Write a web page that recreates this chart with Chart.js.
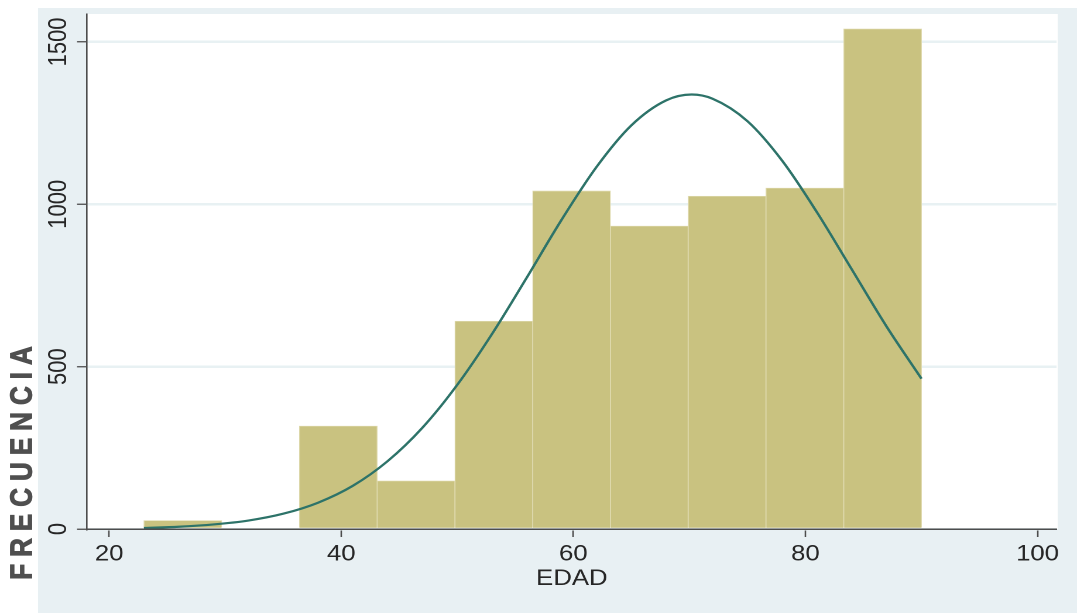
<!DOCTYPE html>
<html>
<head>
<meta charset="utf-8">
<script src="https://cdn.jsdelivr.net/npm/chart.js@4"></script>
<style>
  html, body { margin: 0; padding: 0; background: #ffffff; overflow: hidden; }
  #wrap { position: absolute; left: 0; top: 0; height: 614px; transform-origin: 0 0; }
</style>
</head>
<body>
<div id="wrap"><canvas id="hist"></canvas></div>
<script>
// histogram of EDAD (bin edges) and counts per bin
const binEdges = [23, 29.7, 36.4, 43.1, 49.8, 56.5, 63.2, 69.9, 76.6, 83.3, 90];
const binCounts = [26, 0, 317, 148, 640, 1041, 933, 1025, 1050, 1540];

// normal curve
const curveX = [23, 26, 29, 32, 35, 38, 41, 44, 47, 50, 53, 56, 59, 62, 65, 68, 70.2, 72, 75, 78, 81, 84, 87, 90];
const curveY = [3, 7, 14, 26, 47, 81, 133, 209, 312, 444, 601, 775, 953, 1115, 1243, 1320, 1338, 1325, 1256, 1134, 975, 799, 623, 463];

const xTicks = [20, 40, 60, 80, 100];
const yTicks = [0, 500, 1000, 1500];

// the original picture is stretched sideways
const SX = 1.17;
const W = 1077 / SX;

let wrap = document.getElementById('wrap');
wrap.style.width = W + 'px';
wrap.style.transform = 'scaleX(' + SX + ')';

const bgColor = '#e8f0f3';
const barColor = '#c9c280';
const curveColor = '#2d7369';
const axisColor = '#4d4d4d';
const textColor = '#262626';
const fontFamily = '"Liberation Sans", Arial, sans-serif';

const bars = binCounts.map((c, i) => ({ x: (binEdges[i] + binEdges[i + 1]) / 2, y: c }));
const curve = curveX.map((x, i) => ({ x: x, y: curveY[i] }));

// backgrounds (outer light panel + white plot region)
const panelPlugin = {
    id: 'panel',
    beforeDraw(chart) {
        let ctx = chart.ctx;
        let a = chart.chartArea;
        ctx.save();
        ctx.fillStyle = '#ffffff';
        ctx.fillRect(0, 0, chart.width, chart.height);
        ctx.fillStyle = bgColor;
        ctx.fillRect(38 / SX, 8, chart.width - 38 / SX, 605);
        ctx.fillStyle = '#ffffff';
        ctx.fillRect(a.left, a.top, a.right - a.left + 1, a.bottom - a.top);
        ctx.restore();
    },
    afterDraw(chart) {
        // y axis title sits low, not centred on the plot
        let ctx = chart.ctx;
        ctx.save();
        ctx.translate(23 / SX, 463);
        ctx.rotate(-Math.PI / 2);
        ctx.font = 'bold 26px ' + fontFamily;
        ctx.letterSpacing = '7px';
        ctx.fillStyle = '#4f4f4f';
        ctx.strokeStyle = '#4f4f4f';
        ctx.lineWidth = 0.9;
        ctx.textAlign = 'center';
        ctx.textBaseline = 'middle';
        ctx.fillText('FRECUENCIA', 3.5, 0);
        ctx.strokeText('FRECUENCIA', 3.5, 0);
        ctx.restore();
    }
};

new Chart(document.getElementById('hist'), {
    type: 'bar',
    data: {
        datasets: [{
            type: 'line',
            data: curve,
            borderColor: curveColor,
            borderWidth: 2.2,
            pointRadius: 0,
            cubicInterpolationMode: 'monotone',
            fill: false,
            order: 0
        }, {
            type: 'bar',
            data: bars,
            backgroundColor: barColor,
            borderColor: '#dfdaae',
            borderWidth: 0.8,
            barPercentage: 1,
            categoryPercentage: 1,
            order: 1
        }]
    },
    options: {
        responsive: true,
        maintainAspectRatio: false,
        devicePixelRatio: 2,
        animation: false,
        layout: { padding: { left: 0, right: (1077 - 1056) / SX, top: 14, bottom: 0 } },
        plugins: {
            legend: { display: false },
            tooltip: { enabled: false }
        },
        scales: {
            x: {
                type: 'linear',
                offset: false,
                min: 18.1,
                max: 101.64,
                afterFit: s => { s.height = 85 },
                afterBuildTicks: s => { s.ticks = xTicks.map(v => ({ value: v })) },
                grid: { offset: false, drawOnChartArea: false, drawTicks: true, tickLength: 8, tickColor: axisColor, tickWidth: 1.3 },
                border: { color: axisColor, width: 1.5, z: 1 },
                ticks: {
                    color: textColor,
                    padding: 4,
                    maxRotation: 0,
                    callback: v => String(v),
                    font: { family: fontFamily, size: 22 }
                },
                title: {
                    display: true,
                    text: 'EDAD',
                    color: textColor,
                    padding: { top: 0, bottom: 22 },
                    font: { family: fontFamily, size: 22 }
                }
            },
            y: {
                min: 0,
                max: 1586,
                afterFit: s => { s.width = 87 / SX },
                afterBuildTicks: s => { s.ticks = yTicks.map(v => ({ value: v })) },
                grid: { color: '#e8f1f3', lineWidth: 2.5, tickLength: 10 / SX, tickColor: axisColor, tickWidth: 1.3 },
                border: { color: axisColor, width: 1.3, z: 1 },
                ticks: {
                    color: textColor,
                    minRotation: 90,
                    maxRotation: 90,
                    crossAlign: 'center',
                    padding: -9,
                    callback: v => String(v),
                    font: { family: fontFamily, size: 22 }
                }
            }
        }
    },
    plugins: [panelPlugin]
});
</script>
</body>
</html>
